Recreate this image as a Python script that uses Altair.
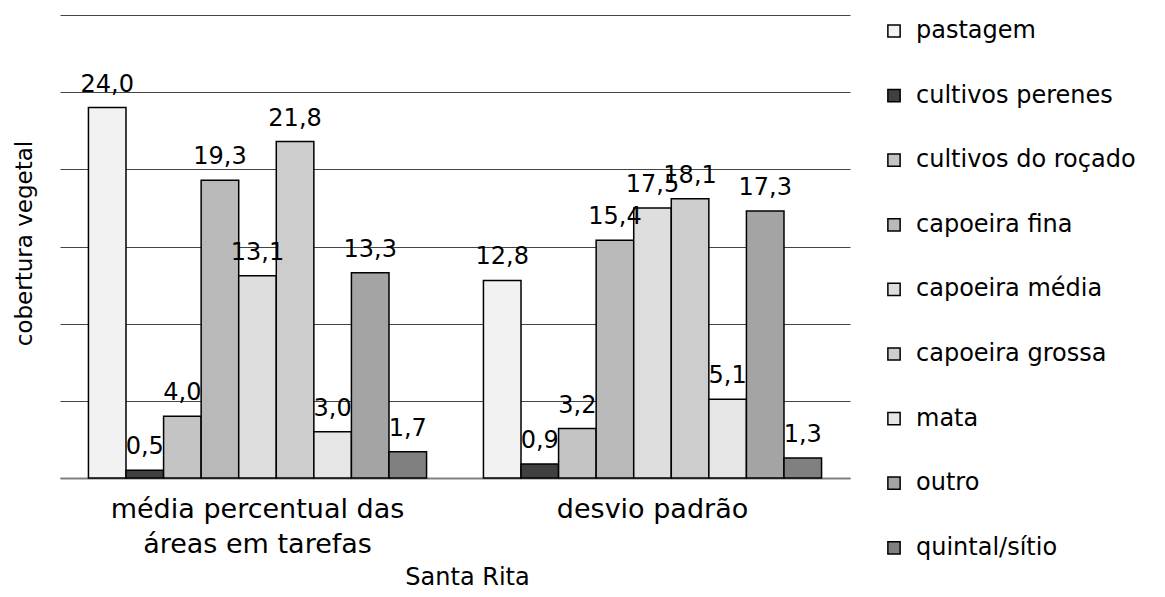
import altair as alt
import pandas as pd

groups = ["média percentual das\náreas em tarefas", "desvio padrão"]
series = ["pastagem", "cultivos perenes", "cultivos do roçado", "capoeira fina",
          "capoeira média", "capoeira grossa", "mata", "outro", "quintal/sítio"]
media = [24.0, 0.5, 4.0, 19.3, 13.1, 21.8, 3.0, 13.3, 1.7]
desvio = [12.8, 0.9, 3.2, 15.4, 17.5, 18.1, 5.1, 17.3, 1.3]
fills = ["#f2f2f2", "#404040", "#c4c4c4", "#b9b9b9", "#dedede",
         "#cdcdcd", "#e6e6e6", "#a4a4a4", "#808080"]
y_ticks = [0, 5, 10, 15, 20, 25, 30]

rows = []
for g, vals in zip(groups, [media, desvio]):
    for s, v in zip(series, vals):
        rows.append({"grupo": g, "cobertura": s, "valor": v,
                     "rotulo": f"{v:.1f}".replace(".", ",")})
df = pd.DataFrame(rows)

FONT = "DejaVu Sans"

x = alt.X("grupo:N", sort=groups,
          scale=alt.Scale(paddingInner=0.144, paddingOuter=0.072),
          axis=alt.Axis(title="Santa Rita", labelAngle=0,
                        labelExpr="split(datum.label, '\\n')",
                        labelLineHeight=35, labelFontSize=27, labelFont=FONT,
                        labelColor="black", labelPadding=18, labelLimit=0, ticks=False,
                        domainColor="#808080", domainWidth=2,
                        titleFontSize=24, titleFont=FONT, titleFontWeight="normal",
                        titleColor="black", titleX=407, titleY=106,
                        titleAlign="center", titleBaseline="alphabetic"))
xo = alt.XOffset("cobertura:N", sort=series,
                 scale=alt.Scale(paddingInner=0, paddingOuter=0))
y = alt.Y("valor:Q", scale=alt.Scale(domain=[0, 30], nice=False, zero=True),
          axis=alt.Axis(values=y_ticks, labels=False, ticks=False, domain=False,
                        grid=True, gridColor="#444444", gridWidth=1,
                        title="cobertura vegetal", titleX=-36, titleY=228,
                        titleAngle=270, titleAlign="center", titleBaseline="middle",
                        titleFont=FONT, titleFontSize=23, titleFontWeight="normal",
                        titleColor="black"))
color = alt.Color("cobertura:N", sort=series,
                  scale=alt.Scale(domain=series, range=fills),
                  legend=alt.Legend(title=None, orient="none", legendX=822, legendY=4,
                                    symbolType="square", symbolSize=150,
                                    symbolStrokeColor="black", symbolStrokeWidth=1.5,
                                    labelFont=FONT, labelFontSize=24, labelColor="black",
                                    rowPadding=40.6, labelOffset=10, padding=0,
                                    labelLimit=400))

base = alt.Chart(df)
bars = base.mark_bar(stroke="black", strokeWidth=1.5).encode(
    x=x, xOffset=xo, y=y, color=color)
labels = base.mark_text(dy=-16, baseline="alphabetic", align="center",
                        font=FONT, fontSize=24, color="black").encode(
    x=alt.X("grupo:N", sort=groups), xOffset=alt.XOffset("cobertura:N", sort=series),
    y=alt.Y("valor:Q"), text="rotulo:N")

chart = alt.layer(bars, labels).properties(
    width=790, height=463,
    autosize=alt.AutoSizeParams(type="none"),
    padding={"left": 52, "top": 7, "right": 300, "bottom": 114},
).configure_view(stroke=None)

chart.save("out.html", embed_options={"renderer": "svg", "actions": False})
